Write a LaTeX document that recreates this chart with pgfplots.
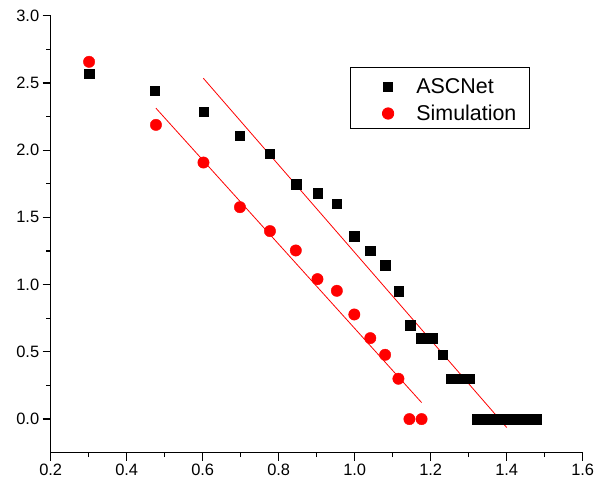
\documentclass[border=0pt]{standalone}
\usepackage{fontspec}
\setmainfont{Liberation Sans}
\usepackage{pgfplots}
\pgfplotsset{compat=1.18}
\definecolor{simred}{RGB}{255,0,0}
\begin{document}
\begin{tikzpicture}
\useasboundingbox (-50.7bp,-36.3bp) rectangle (544.3bp,452.7bp);
\begin{axis}[
  at={(0,0)}, anchor=south west,
  scale only axis, width=532bp, height=437bp,
  xmin=0.2, xmax=1.6, ymin=-0.25, ymax=3.0,
  axis lines=left,
  axis line style={-, line width=1.2bp},
  every tick/.style={black, line width=1.2bp},
  tick align=outside,
  major tick length=8bp, minor tick length=4.5bp,
  minor tick num=1,
  xtick={0.2,0.4,...,1.6},
  ytick={0,0.5,...,3.0},
  /pgf/number format/.cd, fixed, fixed zerofill, precision=1, assume math mode=true,
  /pgfplots/.cd,
  tick label style={font=\fontsize{16.5}{18}\selectfont},
  legend style={at={(axis cs:0.9876,2.617)}, anchor=north west,
    draw=black, line width=0.8bp, inner xsep=0pt, inner ysep=4bp,
    row sep=0pt, nodes={inner sep=0pt}, font=\fontsize{21.5}{22}\selectfont},
  legend cell align=left,
  legend image code/.code={%
    \path[draw=none, fill=none] (0bp,-11.3bp) rectangle (66bp,15.3bp);
    \draw[#1] plot coordinates {(37.7bp,0bp)};},
]
\addplot[only marks, mark=square*, mark size=4.65bp, black] coordinates {
  (0.301,2.567) (0.474,2.442) (0.602,2.286) (0.698,2.108) (0.777,1.972)
  (0.846,1.747) (0.903,1.680) (0.953,1.601) (0.999,1.361) (1.041,1.254)
  (1.080,1.145) (1.115,0.952) (1.146,0.699) (1.175,0.602) (1.204,0.602)
  (1.232,0.478) (1.254,0.300) (1.278,0.300) (1.303,0.300)
  (1.322,0) (1.344,0) (1.367,0) (1.389,0) (1.411,0) (1.433,0) (1.456,0) (1.478,0)
};
\addlegendentry{ASCNet}
\addplot[only marks, mark=*, mark size=5.7bp, simred] coordinates {
  (0.301,2.657) (0.477,2.188) (0.602,1.908) (0.698,1.576) (0.777,1.398)
  (0.845,1.254) (0.902,1.041) (0.953,0.954) (0.999,0.778) (1.041,0.602)
  (1.080,0.478) (1.115,0.300) (1.144,0) (1.176,0)
};
\addlegendentry{Simulation\kern12.6bp}
\addplot[simred, line width=0.8bp, forget plot] coordinates {(0.6016,2.535) (1.400,-0.0625)};
\addplot[simred, line width=0.8bp, forget plot] coordinates {(0.477,2.312) (1.176,0.123)};
\end{axis}
\end{tikzpicture}
\end{document}
